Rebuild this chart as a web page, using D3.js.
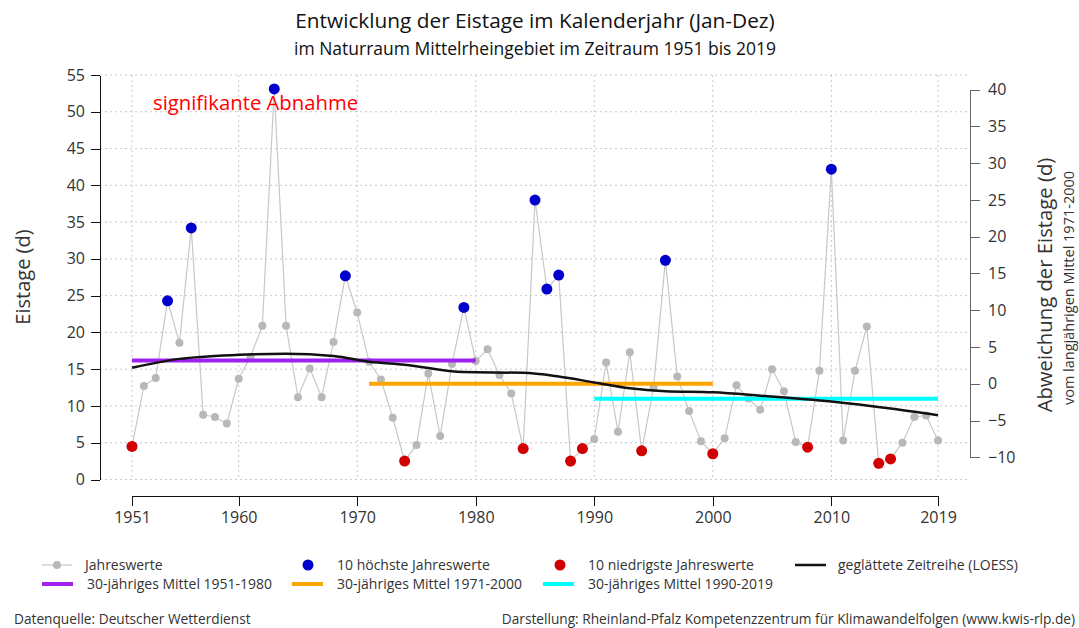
<!DOCTYPE html>
<html>
<head>
<meta charset="utf-8">
<script src="https://cdn.jsdelivr.net/npm/d3@7"></script>
<style>
  body { margin: 0; background: #fff; }
  svg text { font-family: "Open Sans", "Noto Sans", sans-serif; fill: #333; }
  .axis path, .axis line { shape-rendering: crispEdges; }
</style>
</head>
<body>
<svg id="chart" width="1079" height="628"></svg>
<script>
//ice days per year, Mittelrheingebiet 1951-2019
var years = d3.range(1951, 2020);
var eistage = [
  4.5, 12.7, 13.8, 24.3, 18.6, 34.2, 8.8, 8.5, 7.6, 13.7,
  16.7, 20.9, 53.1, 20.9, 11.2, 15.1, 11.2, 18.7, 27.7, 22.7,
  16.0, 13.6, 8.4, 2.5, 4.7, 14.4, 5.9, 15.7, 23.4, 16.1,
  17.7, 14.2, 11.7, 4.2, 38.0, 25.9, 27.8, 2.5, 4.2, 5.5,
  15.9, 6.5, 17.3, 3.9, 12.5, 29.8, 14.0, 9.3, 5.2, 3.5,
  5.6, 12.8, 11.0, 9.5, 15.0, 12.0, 5.1, 4.4, 14.8, 42.2,
  5.3, 14.8, 20.8, 2.2, 2.8, 5.0, 8.5, 8.7, 5.3
];

//smoothed series (LOESS)
var loessYears  = [1951, 1955, 1960, 1964, 1968, 1971, 1974, 1979, 1984, 1987, 1990, 1993, 1996, 2000, 2004, 2010, 2015, 2019];
var loessValues = [15.2, 16.4, 16.95, 17.1, 16.8, 16.0, 15.6, 14.6, 14.5, 14.0, 13.2, 12.4, 12.0, 11.85, 11.4, 10.6, 9.65, 8.75];

//30 year periods
var periods = [[1951, 1980], [1971, 2000], [1990, 2019]];
var periodColors = ["#a020f0", "#ffa500", "#00ffff"];

//tick labels
var xTicks = [1951, 1960, 1970, 1980, 1990, 2000, 2010, 2019];
var yTicks = d3.range(0, 56, 5);
var yRightTicks = d3.range(-10, 41, 5);

var data = years.map(function(y, i) { return {year: y, value: eistage[i]}; });

//the 10 highest and lowest years
var sorted = data.slice().sort(function(a, b) { return b.value - a.value; });
var highest = sorted.slice(0, 10);
var lowest = sorted.slice(-10);

var svg = d3.select("#chart");

//scales
var x = d3.scaleLinear().domain([1951, 2019]).range([132, 938]);
var y = d3.scaleLinear().domain([0, 55]).range([479.5, 75]);

var periodMeans = periods.map(function(p) {
  return d3.mean(data.filter(function(d) { return d.year >= p[0] && d.year <= p[1]; }), function(d) { return d.value; });
});
//right axis = deviation from the 1971-2000 mean
var refMean = periodMeans[1];
var yRight = d3.scaleLinear().domain([-10, 40]).range([y(refMean - 10), y(refMean + 40)]);

//grid
var grid = svg.append("g").attr("class", "grid");
grid.selectAll(".hgrid")
  .data(yTicks)
  .enter().append("line")
  .attr("x1", 100).attr("x2", 970)
  .attr("y1", function(d) { return y(d); })
  .attr("y2", function(d) { return y(d); })
  .attr("stroke", "#c8c8c8")
  .attr("stroke-dasharray", "2,3");
grid.selectAll(".vgrid")
  .data(xTicks)
  .enter().append("line")
  .attr("x1", function(d) { return x(d); })
  .attr("x2", function(d) { return x(d); })
  .attr("y1", y(55)).attr("y2", y(0))
  .attr("stroke", "#c8c8c8")
  .attr("stroke-dasharray", "2,3");

//left axis
var leftAxis = svg.append("g")
  .attr("class", "axis")
  .attr("transform", "translate(100,0)")
  .call(d3.axisLeft(y).tickValues(yTicks).tickSize(9).tickSizeOuter(0).tickPadding(6));
leftAxis.selectAll("path, line").attr("stroke", "#111");
leftAxis.selectAll("text").attr("font-size", 16).style("fill", "#333");

//right axis
var rightAxis = svg.append("g")
  .attr("class", "axis")
  .attr("transform", "translate(970,0)")
  .call(d3.axisRight(yRight).tickValues(yRightTicks).tickSize(10).tickSizeOuter(0).tickPadding(8));
rightAxis.selectAll("path, line").attr("stroke", "#666");
rightAxis.selectAll("text").attr("font-size", 16).style("fill", "#333");

//bottom axis
var bottomAxis = svg.append("g")
  .attr("class", "axis")
  .attr("transform", "translate(0,496)")
  .call(d3.axisBottom(x).tickValues(xTicks).tickFormat(d3.format("d")).tickSize(10).tickSizeOuter(0).tickPadding(6));
bottomAxis.selectAll("path, line").attr("stroke", "#111");
bottomAxis.selectAll("text").attr("font-size", 16).style("fill", "#333");

//yearly values
var line = d3.line()
  .x(function(d) { return x(d.year); })
  .y(function(d) { return y(d.value); });

svg.append("path")
  .datum(data)
  .attr("fill", "none")
  .attr("stroke", "#c8c8c8")
  .attr("stroke-width", 1.2)
  .attr("d", line);

svg.selectAll(".point")
  .data(data)
  .enter().append("circle")
  .attr("class", "point")
  .attr("cx", function(d) { return x(d.year); })
  .attr("cy", function(d) { return y(d.value); })
  .attr("r", 4)
  .attr("fill", "#b8b8b8");

//30 year means
svg.selectAll(".mean")
  .data(periods)
  .enter().append("line")
  .attr("class", "mean")
  .attr("x1", function(d) { return x(d[0]); })
  .attr("x2", function(d) { return x(d[1]); })
  .attr("y1", function(d, i) { return y(periodMeans[i]); })
  .attr("y2", function(d, i) { return y(periodMeans[i]); })
  .attr("stroke", function(d, i) { return periodColors[i]; })
  .attr("stroke-width", 4);

//loess
svg.append("path")
  .datum(loessYears.map(function(yr, i) { return [yr, loessValues[i]]; }))
  .attr("fill", "none")
  .attr("stroke", "#111")
  .attr("stroke-width", 2.5)
  .attr("d", d3.line()
    .x(function(d) { return x(d[0]); })
    .y(function(d) { return y(d[1]); })
    .curve(d3.curveMonotoneX));

//highest and lowest points
svg.selectAll(".high")
  .data(highest)
  .enter().append("circle")
  .attr("cx", function(d) { return x(d.year); })
  .attr("cy", function(d) { return y(d.value); })
  .attr("r", 5.5)
  .attr("fill", "#0000cc");
svg.selectAll(".low")
  .data(lowest)
  .enter().append("circle")
  .attr("cx", function(d) { return x(d.year); })
  .attr("cy", function(d) { return y(d.value); })
  .attr("r", 5.5)
  .attr("fill", "#d00000");

//titles
svg.append("text")
  .attr("x", 535).attr("y", 28)
  .attr("text-anchor", "middle")
  .attr("font-size", 20.8)
  .style("fill", "#111")
  .text("Entwicklung der Eistage im Kalenderjahr (Jan-Dez)");
svg.append("text")
  .attr("x", 535).attr("y", 55)
  .attr("text-anchor", "middle")
  .attr("font-size", 17.5)
  .style("fill", "#111")
  .text("im Naturraum Mittelrheingebiet im Zeitraum 1951 bis 2019");

svg.append("text")
  .attr("x", 153).attr("y", 110)
  .attr("font-size", 20.3)
  .style("fill", "#ff0000")
  .text("signifikante Abnahme");

//axis labels
svg.append("text")
  .attr("transform", "translate(30,277) rotate(-90)")
  .attr("text-anchor", "middle")
  .attr("font-size", 20)
  .text("Eistage (d)");
svg.append("text")
  .attr("transform", "translate(1052,285) rotate(-90)")
  .attr("text-anchor", "middle")
  .attr("font-size", 20.3)
  .text("Abweichung der Eistage (d)");
svg.append("text")
  .attr("transform", "translate(1074,288) rotate(-90)")
  .attr("text-anchor", "middle")
  .attr("font-size", 14.5)
  .text("vom langjährigen Mittel 1971-2000");

//legend
var legend = svg.append("g").attr("font-size", 14);
var row1 = 565, row2 = 584;

legend.append("line").attr("x1", 42).attr("x2", 72).attr("y1", row1).attr("y2", row1)
  .attr("stroke", "#c8c8c8").attr("stroke-width", 1.2);
legend.append("circle").attr("cx", 57).attr("cy", row1).attr("r", 4).attr("fill", "#b8b8b8");
legend.append("circle").attr("cx", 308).attr("cy", row1).attr("r", 5.5).attr("fill", "#0000cc");
legend.append("circle").attr("cx", 560).attr("cy", row1).attr("r", 5.5).attr("fill", "#d00000");
legend.append("line").attr("x1", 795).attr("x2", 826).attr("y1", row1).attr("y2", row1)
  .attr("stroke", "#111").attr("stroke-width", 2.5);

var meanLegendX = [42, 292, 543];
periods.forEach(function(p, i) {
  legend.append("line")
    .attr("x1", meanLegendX[i]).attr("x2", meanLegendX[i] + 31)
    .attr("y1", row2).attr("y2", row2)
    .attr("stroke", periodColors[i]).attr("stroke-width", 4);
  legend.append("text")
    .attr("x", meanLegendX[i] + 45).attr("y", row2).attr("dy", "0.35em")
    .text("30-jähriges Mittel " + p[0] + "-" + p[1]);
});
legend.append("text").attr("x", 85).attr("y", row1).attr("dy", "0.35em").text("Jahreswerte");
legend.append("text").attr("x", 337).attr("y", row1).attr("dy", "0.35em").text("10 höchste Jahreswerte");
legend.append("text").attr("x", 588).attr("y", row1).attr("dy", "0.35em").text("10 niedrigste Jahreswerte");
legend.append("text").attr("x", 838).attr("y", row1).attr("dy", "0.35em").text("geglättete Zeitreihe (LOESS)");

//footer
svg.append("text")
  .attr("x", 14).attr("y", 624)
  .attr("font-size", 13.7)
  .text("Datenquelle: Deutscher Wetterdienst");
svg.append("text")
  .attr("x", 1075).attr("y", 624)
  .attr("text-anchor", "end")
  .attr("font-size", 13.7)
  .text("Darstellung: Rheinland-Pfalz Kompetenzzentrum für Klimawandelfolgen (www.kwis-rlp.de)");
</script>
</body>
</html>
